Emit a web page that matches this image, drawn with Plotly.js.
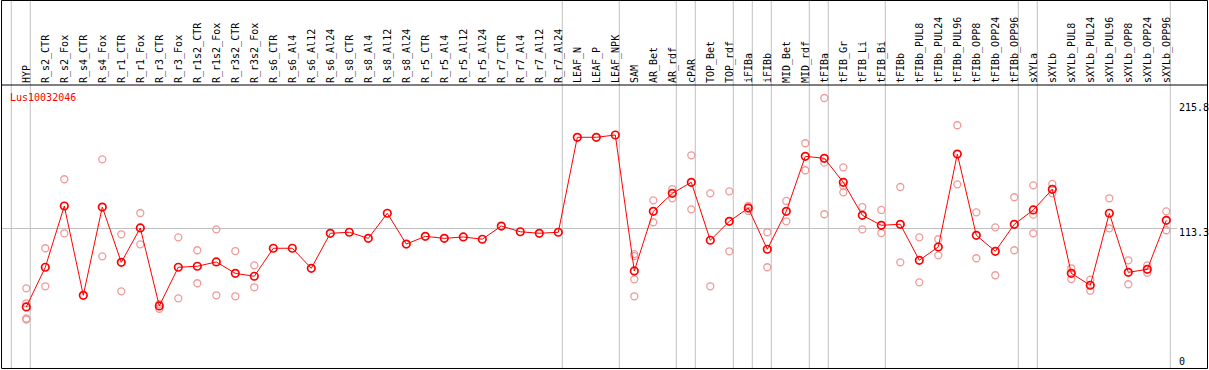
<!DOCTYPE html>
<html>
<head>
<meta charset="utf-8">
<script src="https://cdn.plot.ly/plotly-3.0.1.min.js"></script>
<style>
  html, body { margin: 0; padding: 0; background: #ffffff; }
  #chart { width: 1209px; height: 370px; }
</style>
</head>
<body>
<div id="chart"></div>
<script>
// ---- data ----
var geneId = 'Lus10032046';

var categories = [
  'HYP','R_s2_CTR','R_s2_Fox','R_s4_CTR','R_s4_Fox','R_r1_CTR','R_r1_Fox','R_r3_CTR','R_r3_Fox',
  'R_r1s2_CTR','R_r1s2_Fox','R_r3s2_CTR','R_r3s2_Fox','R_s6_CTR','R_s6_Al4','R_s6_Al12','R_s6_Al24',
  'R_s8_CTR','R_s8_Al4','R_s8_Al12','R_s8_Al24','R_r5_CTR','R_r5_Al4','R_r5_Al12','R_r5_Al24',
  'R_r7_CTR','R_r7_Al4','R_r7_Al12','R_r7_Al24','LEAF_N','LEAF_P','LEAF_NPK','SAM','AR_Bet','AR_rdf',
  'cPAR','TOP_Bet','TOP_rdf','iFIBa','iFIBb','MID_Bet','MID_rdf','tFIBa','tFIB_Gr','tFIB_Li','tFIB_Bi',
  'tFIBb','tFIBb_PUL8','tFIBb_PUL24','tFIBb_PUL96','tFIBb_OPP8','tFIBb_OPP24','tFIBb_OPP96',
  'sXYLa','sXYLb','sXYLb_PUL8','sXYLb_PUL24','sXYLb_PUL96','sXYLb_OPP8','sXYLb_OPP24','sXYLb_OPP96'
];

var meanValues = [
  51.3, 82.6, 130.9, 60.5, 130.1, 86.5, 113.6, 52.1, 82.6,
  83.4, 86.8, 77.8, 75.5, 97.6, 97.6, 81.8, 109.4,
  110.2, 105.4, 125.2, 100.9, 107.0, 105.4, 106.5, 104.7,
  115.1, 110.6, 109.4, 110.2, 185.1, 185.1, 186.9, 79.7, 126.7, 140.9,
  149.6, 103.9, 118.8, 129.3, 96.8, 126.7, 170.1, 168.5, 149.6, 123.6, 115.7,
  116.5, 88.1, 98.6, 171.9, 107.8, 95.2, 116.5,
  127.8, 144.1, 77.8, 68.4, 125.2, 78.6, 81.0, 119.6
];

var rep1 = [
  66.0, 97.6, 152.0, null, 167.7, 108.6, 125.4, 53.6, 106.2,
  96.0, 112.5, 95.4, 84.1, null, null, null, null,
  null, null, null, null, null, null, null, null,
  null, null, null, null, null, null, null, 93.0, 135.4, 144.3,
  170.9, 140.9, 142.5, 130.9, 110.2, 134.9, 180.4, 216.1, 161.4, 130.1, 127.8,
  145.9, 106.2, 104.7, 194.6, 125.9, 114.1, 137.8,
  147.2, 148.3, 81.8, 72.8, 137.0, 88.1, 84.1, 126.7
];

var rep2 = [
  54.2, 67.6, 109.4, null, 91.2, 63.6, 100.7, 49.9, 58.1,
  70.0, 60.5, 59.7, 66.8, null, null, null, null,
  null, null, null, null, null, null, null, null,
  null, null, null, null, null, null, null, 91.4, 118.1, 137.0,
  128.3, 67.6, 95.2, 127.0, 82.6, 118.8, 159.1, 165.1, 146.7, 112.5, 109.6,
  86.5, 70.7, 92.0, 148.0, 89.7, 76.3, 96.0,
  124.1, 140.9, 73.3, 64.1, 113.3, 69.2, 78.3, 111.8
];

var rep3 = [
  42.2, null, null, null, null, null, null, null, null,
  null, null, null, null, null, null, null, null,
  null, null, null, null, null, null, null, null,
  null, null, null, null, null, null, null, 73.1, null, null,
  null, null, null, null, null, null, null, 124.4, 141.7, null, null,
  null, null, null, null, null, null, null,
  109.4, null, null, null, null, null, null, null
];

var rep4 = [
  41.4, null, null, null, null, null, null, null, null,
  null, null, null, null, null, null, null, null,
  null, null, null, null, null, null, null, null,
  null, null, null, null, null, null, null, 59.7, null, null,
  null, null, null, null, null, null, null, null, null, null, null,
  null, null, null, null, null, null, null,
  null, null, null, null, null, null, null, null
];

// index of last category in each group (-1 = left edge)
var groupEnds = [-1, 0, 28, 31, 34, 35, 37, 38, 39, 41, 42, 45, 52, 53, 60];

var yLabels = ['215.8', '113.3', '0'];
var gridValue = 113.3;

// ---- build ----
var repX = [], repY = [];
[rep1, rep2, rep3, rep4].forEach(function (r) {
  r.forEach(function (v, i) { if (v !== null) { repX.push(categories[i]); repY.push(v); } });
});

var traces = [
  {
    x: repX, y: repY, type: 'scatter', mode: 'markers', hoverinfo: 'x+y',
    marker: { symbol: 'circle-open', size: 7, color: '#f09a9a', line: { width: 1.3, color: '#f09a9a' } }
  },
  {
    x: categories, y: meanValues, type: 'scatter', mode: 'lines+markers', hoverinfo: 'x+y',
    line: { color: '#ff0000', width: 1 },
    marker: { symbol: 'circle-open', size: 7.5, color: '#ff0000', line: { width: 1.7, color: '#ff0000' } }
  }
];

var shapes = groupEnds.map(function (g) {
  return { type: 'line', xref: 'x', yref: 'paper', x0: g + 0.21, x1: g + 0.21, y0: 0, y1: 1.3,
           line: { color: '#c0c0c0', width: 1 }, layer: 'below' };
});
// frame and header separator
shapes.push({ type: 'rect', xref: 'paper', yref: 'paper', x0: -0.0004, x1: 1.02596, y0: 0.0018, y1: 1.2975,
              line: { color: '#000000', width: 1 }, fillcolor: 'rgba(0,0,0,0)', layer: 'above' });
shapes.push({ type: 'line', xref: 'paper', yref: 'paper', x0: -0.0004, x1: 1.02596, y0: 1, y1: 1,
              line: { color: '#000000', width: 1 }, layer: 'above' });

var monoFont = 'DejaVu Sans Mono, monospace';
var annotations = [
  { text: geneId, xref: 'paper', yref: 'paper', x: 0.0055, y: 0.9567, xanchor: 'left', yanchor: 'middle',
    showarrow: false, font: { family: monoFont, size: 10, color: '#ff0000' } },
  { text: yLabels[0], xref: 'paper', yref: 'paper', x: 0.9996, y: 0.9201, xanchor: 'left', yanchor: 'middle',
    showarrow: false, font: { family: monoFont, size: 10, color: '#000000' } },
  { text: yLabels[1], xref: 'paper', yref: 'paper', x: 0.9996, y: 0.4813, xanchor: 'left', yanchor: 'middle',
    showarrow: false, font: { family: monoFont, size: 10, color: '#000000' } },
  { text: yLabels[2], xref: 'paper', yref: 'paper', x: 0.9996, y: 0.0257, xanchor: 'left', yanchor: 'middle',
    showarrow: false, font: { family: monoFont, size: 10, color: '#000000' } }
];

var layout = {
  width: 1209, height: 370,
  margin: { l: 2, r: 32, t: 85, b: 1, pad: 0 },
  paper_bgcolor: '#ffffff', plot_bgcolor: '#ffffff',
  showlegend: false,
  xaxis: {
    type: 'category', categoryorder: 'array', categoryarray: categories,
    range: [-1.279, 60.563], autorange: false,
    side: 'top', tickmode: 'array', tickvals: categories, ticktext: categories,
    tickangle: -90, ticks: '', ticklabelstandoff: 1, showgrid: false, zeroline: false, showline: false,
    tickfont: { family: monoFont, size: 10, color: '#000000' }
  },
  yaxis: {
    range: [2.37, 226.34], autorange: false,
    tickmode: 'array', tickvals: [gridValue], showticklabels: false, ticks: '',
    showgrid: true, gridcolor: '#c0c0c0', gridwidth: 1, zeroline: false, showline: false
  },
  shapes: shapes,
  annotations: annotations
};

Plotly.newPlot('chart', traces, layout, { displayModeBar: false, staticPlot: true });
</script>
</body>
</html>
